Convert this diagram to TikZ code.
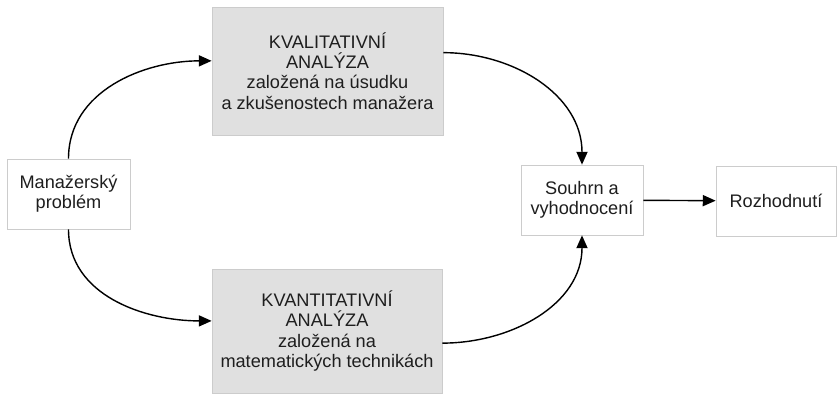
\documentclass[tikz,border=0pt]{standalone}
\usepackage{fontspec}
\setmainfont{Liberation Sans}
\usetikzlibrary{arrows.meta}
\definecolor{boxline}{HTML}{CCCCCC}
\definecolor{boxfill}{HTML}{E0E0E0}
\definecolor{textgray}{HTML}{1E1E1E}
\tikzset{
  plainbox/.style={draw=boxline, fill=white, line width=0.6pt, align=center,
    text=textgray, font=\fontsize{15.5}{17.2}\selectfont, inner sep=0pt},
  greybox/.style={plainbox, fill=boxfill},
  flow/.style={line width=1.2pt, -{Triangle[length=11pt,width=9.5pt]}}
}
\begin{document}
\begin{tikzpicture}[x=0.03cm, y=0.03cm]
    \useasboundingbox (0,0) rectangle (837,-395);
    \node[plainbox, minimum width=3.69cm, minimum height=2.1cm] (problem) at (68.5,-194) {Manažerský\\problém};
    \node[greybox, minimum width=6.93cm, minimum height=3.84cm] (kvalit) at (327.5,-71) {KVALITATIVNÍ\\ANALÝZA\\založená na úsudku\\a zkušenostech manažera};
    \node[greybox, minimum width=6.9cm, minimum height=3.72cm] (kvantit) at (327,-331) {KVANTITATIVNÍ\\ANALÝZA\\založená na\\matematických technikách};
    \node[plainbox, minimum width=3.66cm, minimum height=2.1cm] (souhrn) at (582,-200) {Souhrn a\\vyhodnocení};
    \node[plainbox, minimum width=3.6cm, minimum height=2.1cm] (rozhod) at (776,-201) {Rozhodnutí};
    \draw[flow] (problem.north) to[out=90, in=180] (kvalit.175);
    \draw[flow] (problem.south) to[out=-90, in=180] (kvantit.175);
    \draw[flow] (kvalit.9) to[out=0, in=90] (souhrn.north);
    \draw[flow] (kvantit.-6) to[out=0, in=-90] (souhrn.south);
    \draw[flow] (souhrn) -- (rozhod);
\end{tikzpicture}
\end{document}
